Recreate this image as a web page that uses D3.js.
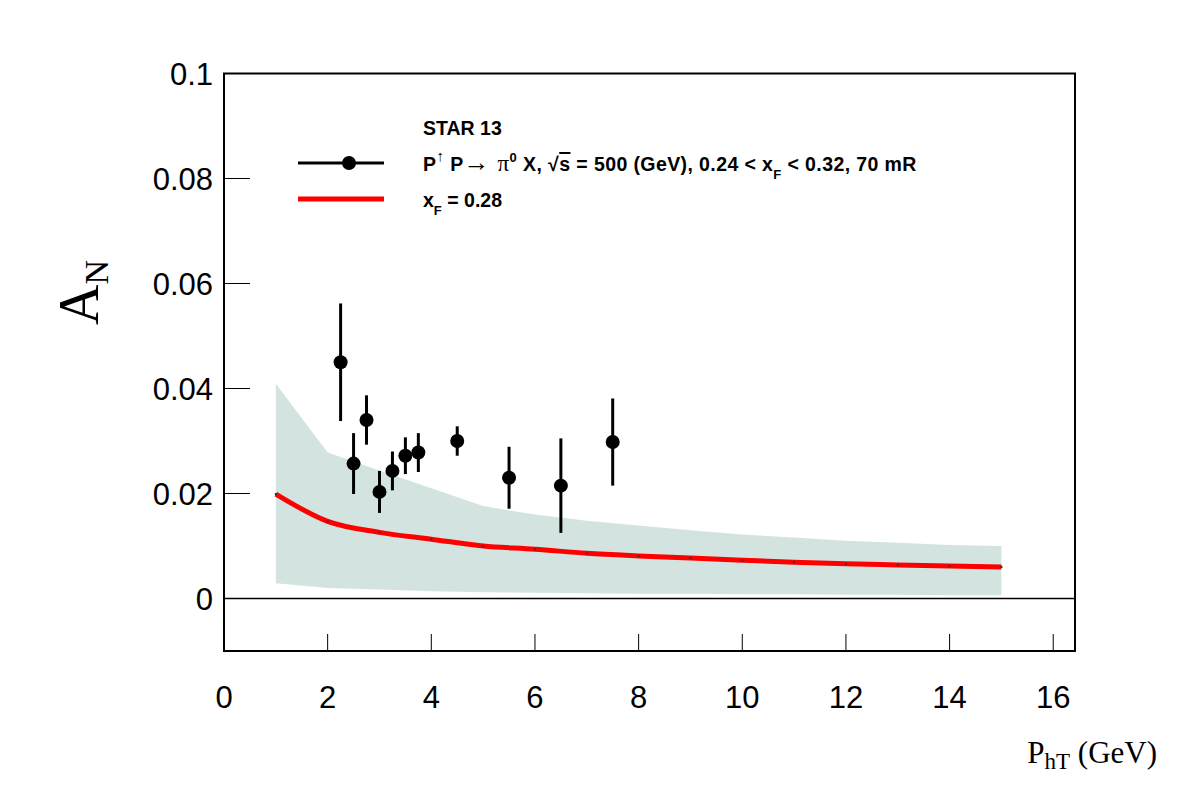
<!DOCTYPE html>
<html>
<head>
<meta charset="utf-8">
<script src="https://cdn.jsdelivr.net/npm/d3@7"></script>
<style>
  body { margin: 0; background: #fff; }
  .tick-label { font-family: "Liberation Sans", Arial, sans-serif; font-size: 31px; }
  .legend { font-family: "Liberation Sans", Arial, sans-serif; font-size: 19.5px; font-weight: bold; }
  .serif { font-family: "Liberation Serif", "Times New Roman", serif; }
</style>
</head>
<body>
<div id="chart"></div>
<script>
// STAR 13 data points
const starX = [2.25, 2.5, 2.75, 3.0, 3.25, 3.5, 3.75, 4.5, 5.5, 6.5, 7.5];
const starY = [0.0450, 0.0257, 0.0340, 0.0203, 0.0243, 0.0272, 0.0278, 0.0300, 0.0230, 0.0215, 0.0298];
const starErr = [0.0112, 0.0058, 0.0047, 0.0040, 0.0037, 0.0035, 0.0037, 0.0028, 0.0059, 0.0090, 0.0083];

// theory curve x_F = 0.28 with uncertainty band
const curveX = [1, 2, 3, 4, 5, 6, 7, 8, 9, 10, 11, 12, 13, 14, 15];
const curveY = [0.0199, 0.0147, 0.0126, 0.0113, 0.0100, 0.0094, 0.0086, 0.0081, 0.0077, 0.0073, 0.0069, 0.0066, 0.0064, 0.0062, 0.0060];
const bandHigh = [0.0409, 0.0278, 0.0244, 0.0210, 0.0176, 0.0160, 0.0148, 0.0139, 0.0130, 0.0122, 0.0116, 0.0110, 0.0106, 0.0102, 0.0100];
const bandLow = [0.0029, 0.0020, 0.0017, 0.0014, 0.0012, 0.0011, 0.0010, 0.0009, 0.0009, 0.0008, 0.0008, 0.0007, 0.0007, 0.0006, 0.0006];

const xTicks = [0, 2, 4, 6, 8, 10, 12, 14, 16];
const yTicks = [0, 0.02, 0.04, 0.06, 0.08, 0.1];

const W = 1182, H = 805;
const margin = {top: 73.5, right: 107, bottom: 154, left: 224};

const svg = d3.select("#chart").append("svg")
    .attr("width", W)
    .attr("height", H);

const x = d3.scaleLinear().domain([0, 16.42]).range([margin.left, W - margin.right]);
const y = d3.scaleLinear().domain([-0.01, 0.1]).range([H - margin.bottom, margin.top]);

// band
const points = curveX.map((d, i) => ({x: d, y: curveY[i], lo: bandLow[i], hi: bandHigh[i]}));
svg.append("path")
    .datum(points)
    .attr("fill", "#d3e4e0")
    .attr("d", d3.area().x(d => x(d.x)).y0(d => y(d.lo)).y1(d => y(d.hi)));

// zero line
svg.append("line")
    .attr("x1", x(0)).attr("x2", W - margin.right)
    .attr("y1", y(0)).attr("y2", y(0))
    .attr("stroke", "#000").attr("stroke-width", 1.5);

// theory curve
svg.append("path")
    .datum(points)
    .attr("fill", "none")
    .attr("stroke", "#ff0000")
    .attr("stroke-width", 5)
    .attr("d", d3.line().x(d => x(d.x)).y(d => y(d.y)).curve(d3.curveMonotoneX));
svg.selectAll(".cdot").data(points).enter().append("rect")
    .attr("x", d => x(d.x) - 1).attr("y", d => y(d.y) - 1)
    .attr("width", 2).attr("height", 2).attr("fill", "#333");

// data points
const star = starX.map((d, i) => ({x: d, y: starY[i], e: starErr[i]}));
svg.selectAll(".err").data(star).enter().append("line")
    .attr("x1", d => x(d.x)).attr("x2", d => x(d.x))
    .attr("y1", d => y(d.y - d.e)).attr("y2", d => y(d.y + d.e))
    .attr("stroke", "#000").attr("stroke-width", 3);
svg.selectAll(".pt").data(star).enter().append("circle")
    .attr("cx", d => x(d.x)).attr("cy", d => y(d.y))
    .attr("r", 7).attr("fill", "#000");

// frame
svg.append("rect")
    .attr("x", margin.left).attr("y", margin.top)
    .attr("width", W - margin.right - margin.left)
    .attr("height", H - margin.bottom - margin.top)
    .attr("fill", "none").attr("stroke", "#000").attr("stroke-width", 2);

// x ticks
svg.selectAll(".xt").data(xTicks.slice(1)).enter().append("line")
    .attr("x1", d => x(d)).attr("x2", d => x(d))
    .attr("y1", y(-0.01)).attr("y2", y(-0.01) - 17)
    .attr("stroke", "#000").attr("stroke-width", 1);
svg.selectAll(".xl").data(xTicks).enter().append("text")
    .attr("class", "tick-label")
    .attr("x", d => x(d)).attr("y", 708)
    .attr("text-anchor", "middle")
    .text(d => d);

// y ticks
svg.selectAll(".yt").data(yTicks).enter().append("line")
    .attr("x1", margin.left).attr("x2", margin.left + 26)
    .attr("y1", d => y(d)).attr("y2", d => y(d))
    .attr("stroke", "#000").attr("stroke-width", 1);
svg.selectAll(".yl").data(yTicks).enter().append("text")
    .attr("class", "tick-label")
    .attr("x", 213).attr("y", d => y(d) + 11)
    .attr("text-anchor", "end")
    .text(d => d);

// axis titles
const yt = svg.append("text")
    .attr("class", "serif")
    .attr("transform", "translate(98,325) rotate(-90)");
yt.append("tspan").attr("font-size", 56).text("A");
yt.append("tspan").attr("font-size", 34).attr("dy", 10).text("N");

const xt = svg.append("text")
    .attr("class", "serif")
    .attr("x", 1157).attr("y", 763)
    .attr("text-anchor", "end")
    .attr("font-size", 31);
xt.append("tspan").text("P");
xt.append("tspan").attr("font-size", 23).attr("dy", 6).text("hT");
xt.append("tspan").attr("dy", -6).text(" (GeV)");

// legend
svg.append("text").attr("class", "legend")
    .attr("x", 423).attr("y", 135).text("STAR 13");

svg.append("line")
    .attr("x1", 298).attr("x2", 384).attr("y1", 163).attr("y2", 163)
    .attr("stroke", "#000").attr("stroke-width", 3);
svg.append("circle").attr("cx", 349).attr("cy", 163).attr("r", 7).attr("fill", "#000");

const l1 = svg.append("text").attr("class", "legend").attr("x", 423).attr("y", 171)
    .attr("letter-spacing", 0.4);
l1.append("tspan").text("P");
l1.append("tspan").attr("font-size", 15).attr("dy", -10).attr("font-weight", "normal").text("\u2191");
l1.append("tspan").attr("dy", 10).text(" P");
l1.append("tspan").attr("font-weight", "normal").attr("font-size", 26).text("\u2192 ");
l1.append("tspan").attr("font-weight", "normal").attr("font-family", "Liberation Serif, serif").attr("font-size", 23).text(" \u03c0");
l1.append("tspan").attr("font-size", 13).attr("dy", -9).text("0");
l1.append("tspan").attr("dy", 9).text(" X,  \u221a");
l1.append("tspan").attr("text-decoration", "overline").text("s");
l1.append("tspan").text(" = 500 (GeV), 0.24 < x");
l1.append("tspan").attr("font-size", 13).attr("dy", 8).text("F");
l1.append("tspan").attr("dy", -8).text(" < 0.32, 70 mR");

svg.append("line")
    .attr("x1", 298).attr("x2", 384).attr("y1", 199).attr("y2", 199)
    .attr("stroke", "#ff0000").attr("stroke-width", 5);

const l2 = svg.append("text").attr("class", "legend").attr("x", 423).attr("y", 207);
l2.append("tspan").text("x");
l2.append("tspan").attr("font-size", 13).attr("dy", 8).text("F");
l2.append("tspan").attr("dy", -8).text(" = 0.28");
</script>
</body>
</html>
